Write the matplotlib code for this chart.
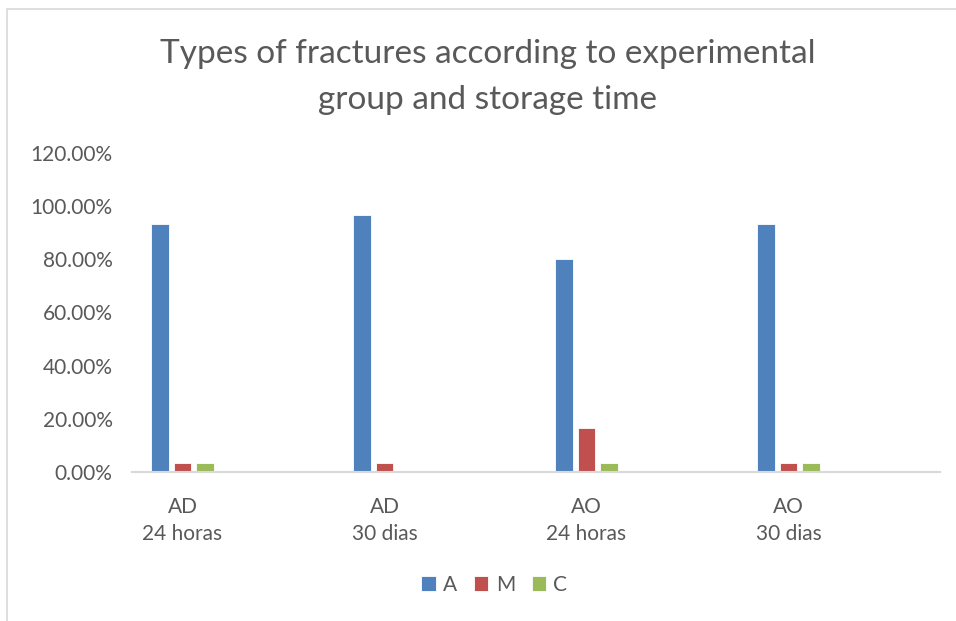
import matplotlib
matplotlib.use("Agg")
import matplotlib.pyplot as plt
import numpy as np
from matplotlib.patches import Rectangle

plt.rcParams['font.family'] = ['Lato', 'DejaVu Sans']

categories = ["AD\n24 horas", "AD\n30 dias", "AO\n24 horas", "AO\n30 dias"]
series_names = ["A", "M", "C"]
A = [93.33, 96.67, 80.00, 93.33]
M = [3.33, 3.33, 16.67, 3.33]
C = [3.33, 0.0, 3.33, 3.33]
colors = ["#4F81BD", "#C0504D", "#9BBB59"]
text_col = "#595959"

fig = plt.figure(figsize=(9.56, 6.21), dpi=100)
# chart frame (left/top border)
fig.patches.append(Rectangle((7/956, -0.1), 1.2, (621-9)/621 + 0.1, transform=fig.transFigure,
                             fill=False, edgecolor="#D9D9D9", linewidth=1.2))

ax = fig.add_axes([132/956, 149/621, 808/956, 319/621])
x = np.arange(len(categories))
w = 0.089
step = 0.109
for i, (vals, name) in enumerate(zip([A, M, C], series_names)):
    ax.bar(x + (i - 1) * step, vals, width=w, color=colors[i], label=name,
           edgecolor="white", linewidth=0.6)

ax.set_xlim(-0.25, 3.75)
ax.set_ylim(0, 120)
ax.set_yticks(np.arange(0, 121, 20))
ax.set_yticklabels([f"{v:.2f}%" for v in np.arange(0, 121, 20)], fontsize=15, color=text_col)
ax.set_xticks(x)
ax.set_xticklabels(categories, fontsize=15, color=text_col, linespacing=1.45)
ax.tick_params(axis="both", length=0)
ax.tick_params(axis="y", pad=14)
ax.tick_params(axis="x", pad=18)
for s in ["top", "right", "left"]:
    ax.spines[s].set_visible(False)
ax.spines["bottom"].set_color("#D9D9D9")
ax.spines["bottom"].set_linewidth(1.5)

fig.text(0.51, 1 - 77/621, "Types of fractures according to experimental\ngroup and storage time",
         ha="center", va="center", fontsize=24, color=text_col, linespacing=1.65)

leg = fig.legend(loc="center", bbox_to_anchor=(0.517, (621-585)/621), ncol=3, frameon=False,
                 fontsize=15, handlelength=0.7, handleheight=0.7, handletextpad=0.35, columnspacing=0.8)
for t in leg.get_texts():
    t.set_color(text_col)

fig.savefig("out.png", dpi=100)
